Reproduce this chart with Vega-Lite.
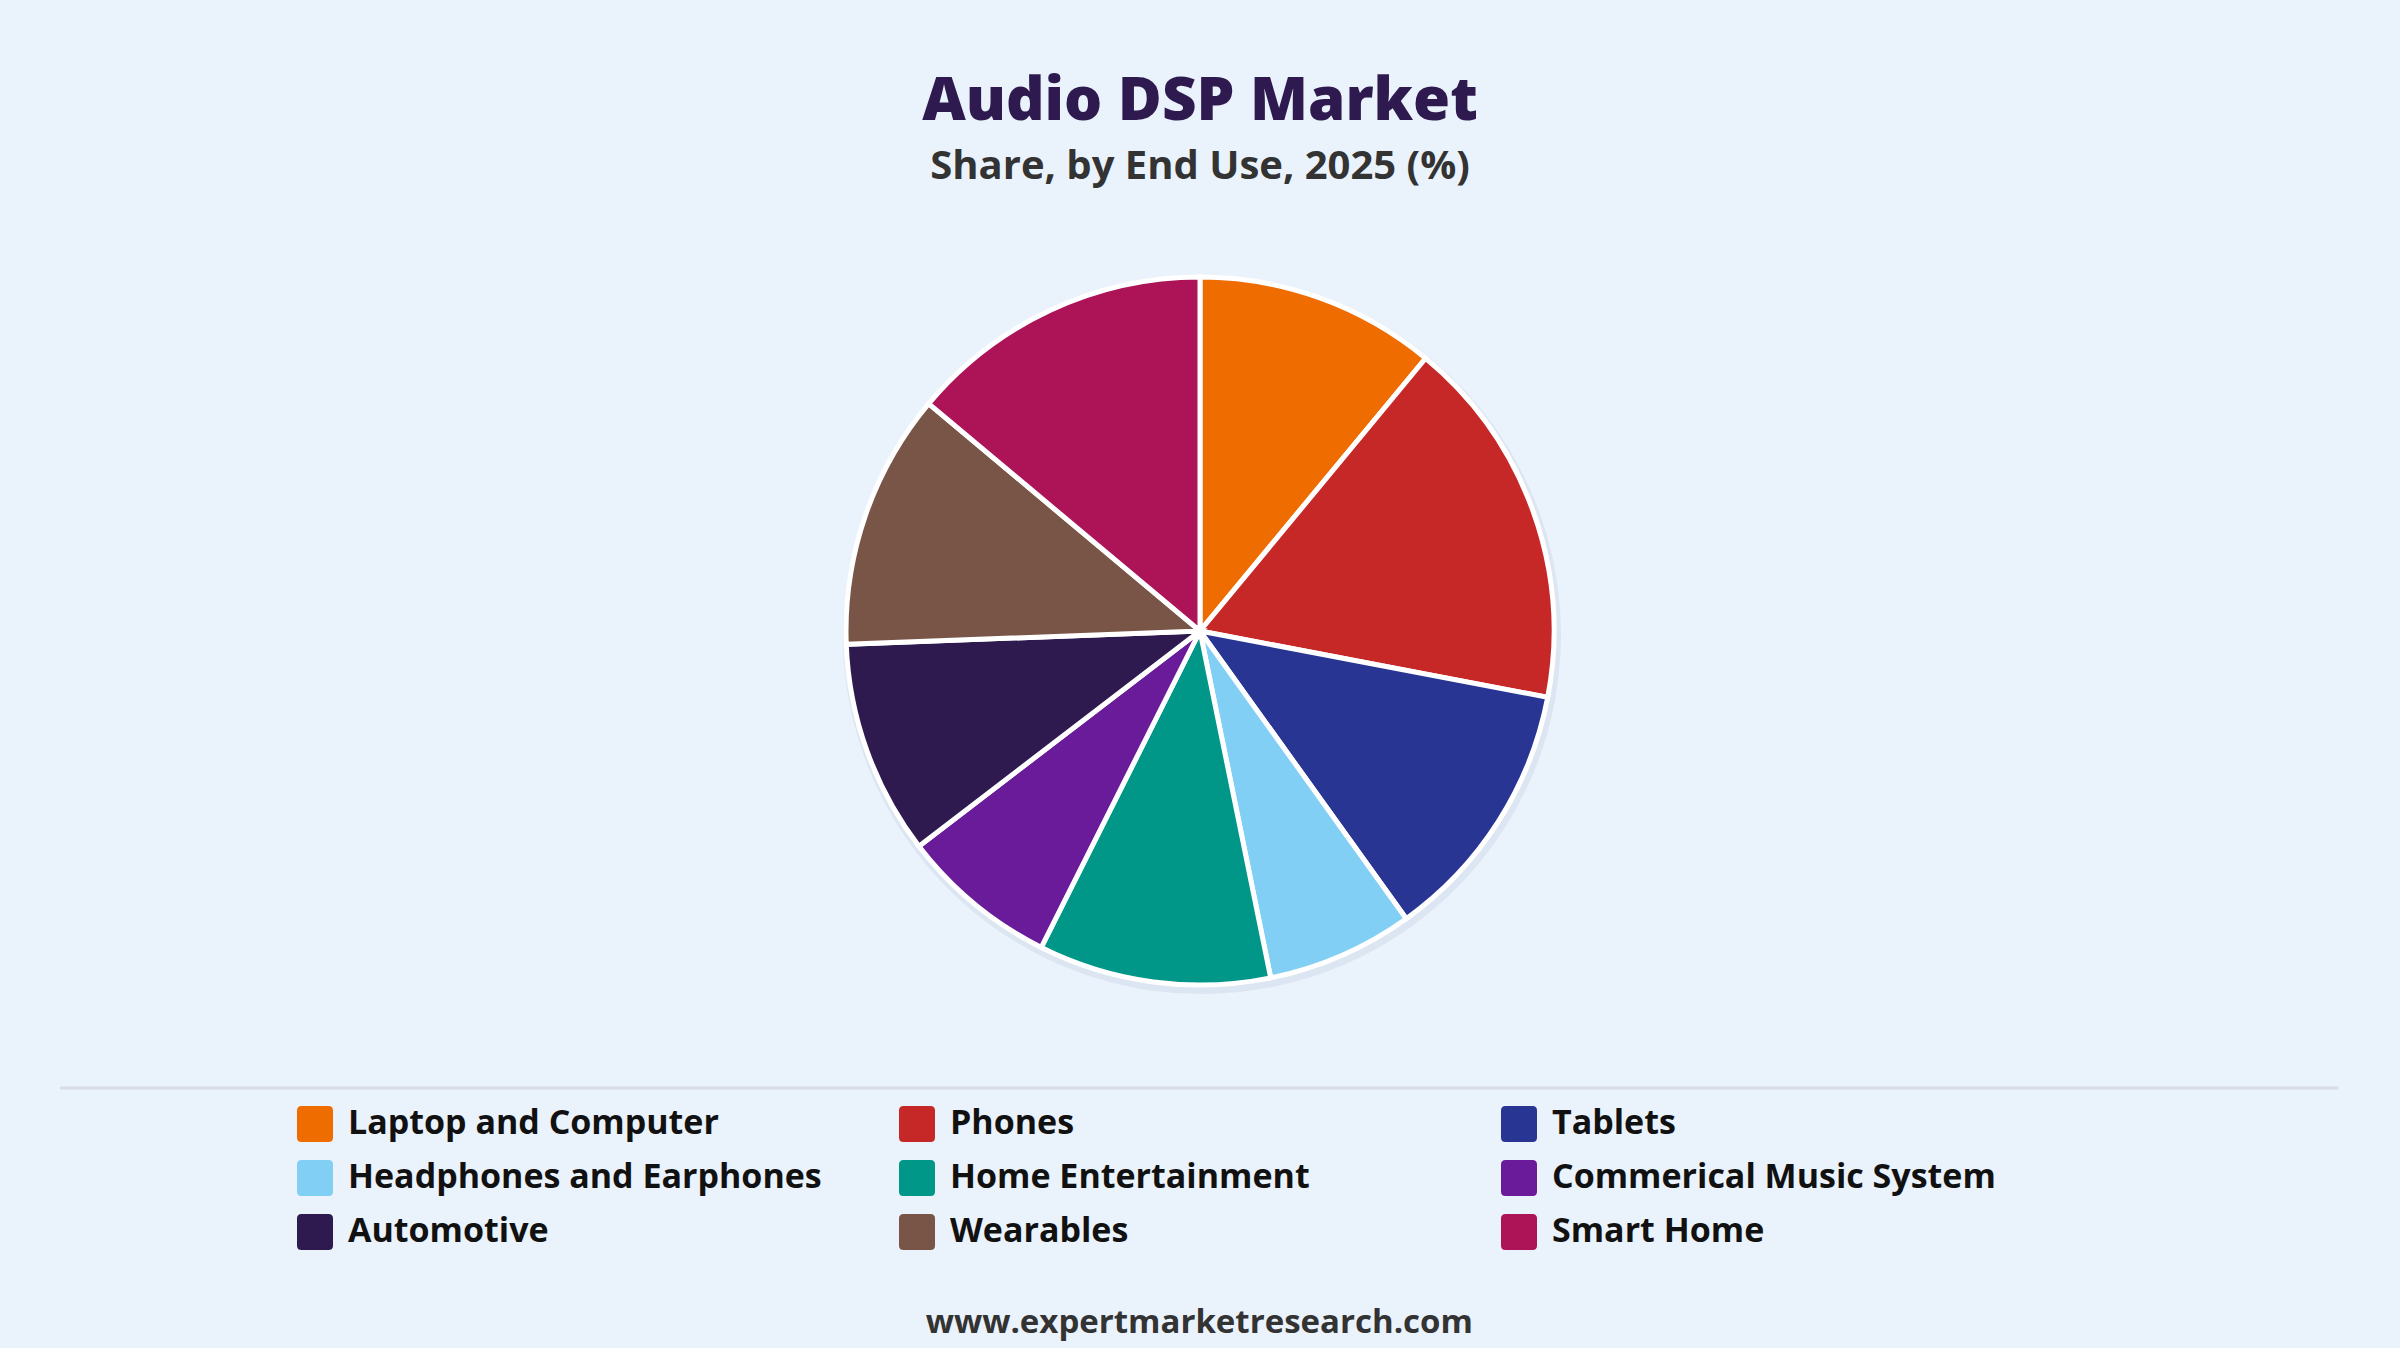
{
  "$schema": "https://vega.github.io/schema/vega-lite/v6.json",
  "background": "#EAF2FC",
  "padding": {"top": 72, "left": 0, "right": 0, "bottom": 8},
  "spacing": 28,
  "center": true,
  "data": {
    "values": [
      {"end_use": "Laptop and Computer", "share": 11.0},
      {"end_use": "Phones", "share": 17.0},
      {"end_use": "Tablets", "share": 12.1},
      {"end_use": "Headphones and Earphones", "share": 6.7},
      {"end_use": "Home Entertainment", "share": 10.6},
      {"end_use": "Commerical Music System", "share": 7.2},
      {"end_use": "Automotive", "share": 9.8},
      {"end_use": "Wearables", "share": 11.7},
      {"end_use": "Smart Home", "share": 13.9}
    ]
  },
  "vconcat": [
    {
      "width": 2400,
      "height": 854,
      "title": {
        "text": "Audio DSP Market",
        "subtitle": "Share, by End Use, 2025 (%)",
        "anchor": "middle",
        "frame": "group",
        "font": "Open Sans",
        "fontSize": 60,
        "fontWeight": 800,
        "color": "#2E1A4F",
        "subtitleFont": "Open Sans",
        "subtitleFontSize": 40,
        "subtitleFontWeight": "bold",
        "subtitleColor": "#333333",
        "subtitlePadding": 14,
        "offset": 16
      },
      "transform": [{"window": [{"op": "row_number", "as": "ord"}]}],
      "encoding": {
        "theta": {"field": "share", "type": "quantitative", "stack": true},
        "order": {"field": "ord", "type": "quantitative"}
      },
      "layer": [
        {
          "mark": {"type": "arc", "radius": 359, "color": "#7F93AD", "opacity": 0.12, "yOffset": 4, "xOffset": 2}
        },
        {
          "mark": {"type": "arc", "radius": 354, "stroke": "#FFFFFF", "strokeWidth": 5},
          "encoding": {
            "color": {
              "field": "end_use",
              "type": "nominal",
              "sort": null,
              "scale": {
                "domain": ["Laptop and Computer", "Phones", "Tablets", "Headphones and Earphones", "Home Entertainment", "Commerical Music System", "Automotive", "Wearables", "Smart Home"],
                "range": ["#EF6C00", "#C62828", "#283593", "#81CFF4", "#009688", "#6A1B9A", "#2E1A4F", "#795548", "#AD1457"]
              },
              "legend": {
                "title": null,
                "orient": "none",
                "legendX": 297,
                "legendY": 902,
                "direction": "horizontal",
                "columns": 3,
                "gridAlign": "all",
                "columnPadding": 77,
                "rowPadding": 18,
                "symbolType": "M-0.75,-1H0.75Q1,-1 1,-0.75V0.75Q1,1 0.75,1H-0.75Q-1,1 -1,0.75V-0.75Q-1,-1 -0.75,-1Z",
                "symbolSize": 1296,
                "symbolStrokeWidth": 0,
                "symbolOpacity": 1,
                "labelFont": "Open Sans",
                "labelFontSize": 34,
                "labelFontWeight": "bold",
                "labelColor": "#111111",
                "labelOffset": 15,
                "labelLimit": 700
              }
            }
          }
        }
      ]
    },
    {
      "width": 2278,
      "height": 180,
      "data": {"values": [{"line": "separator"}]},
      "title": {
        "text": "www.expertmarketresearch.com",
        "orient": "bottom",
        "anchor": "middle",
        "font": "Open Sans",
        "fontSize": 33,
        "fontWeight": "bold",
        "color": "#333333",
        "offset": 39
      },
      "mark": {"type": "rule", "color": "#D8DCE2", "strokeWidth": 3},
      "encoding": {
        "x": {"datum": 0, "type": "quantitative", "scale": {"domain": [0, 1]}, "axis": null},
        "x2": {"datum": 1},
        "y": {"datum": 1, "type": "quantitative", "scale": {"domain": [0, 1]}, "axis": null}
      }
    }
  ],
  "config": {
    "view": {"stroke": null}
  }
}
